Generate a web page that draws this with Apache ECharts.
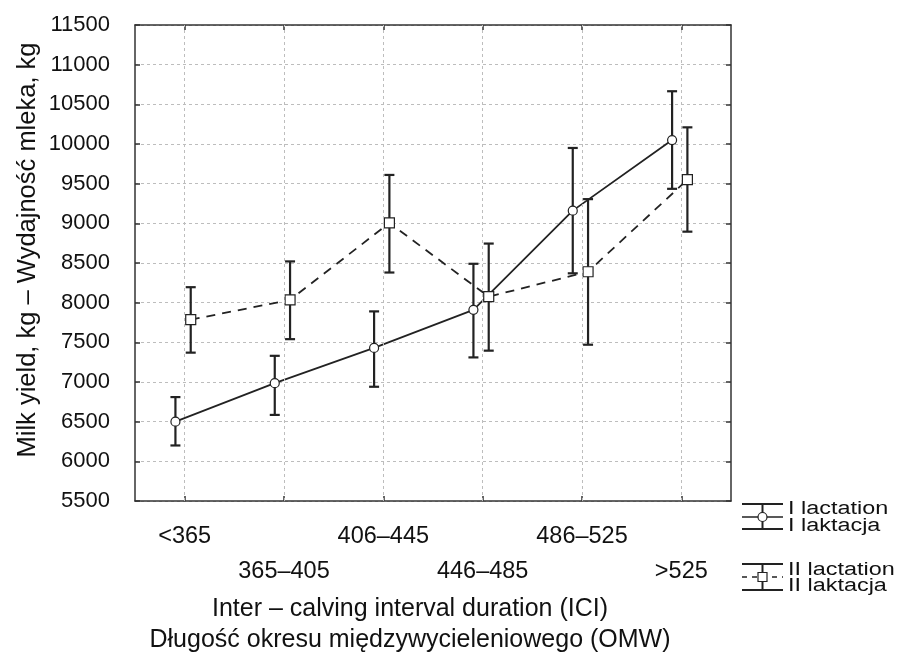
<!DOCTYPE html>
<html>
<head>
<meta charset="utf-8">
<script src="https://cdn.jsdelivr.net/npm/echarts@6/dist/echarts.min.js"></script>
<style>
  html, body { margin: 0; padding: 0; background: #fff; }
  #main { width: 898px; height: 653px; }
</style>
</head>
<body>
<div id="main"></div>
<script>
// kategorie OMW
var categories = ['<365', '365\u2013405', '406\u2013445', '446\u2013485', '486\u2013525', '>525'];

// I laktacja: srednia i przedzial
var lact1Mean = [6500, 6985, 7430, 7910, 9160, 10050];
var lact1Low  = [6200, 6585, 6940, 7310, 8370, 9435];
var lact1High = [6810, 7330, 7890, 8490, 9950, 10665];

// II laktacja: srednia i przedzial
var lact2Mean = [7785, 8035, 9005, 8075, 8390, 9550];
var lact2Low  = [7370, 7540, 8380, 7395, 7470, 8895];
var lact2High = [8195, 8520, 9610, 8745, 9305, 10210];

// os Y
var yMin = 5500, yMax = 11500, yStep = 500;

var ink = '#222';
var font = 'Liberation Sans, Arial, sans-serif';
var shift1 = -0.093, shift2 = 0.061;   // przesuniecie serii w kategorii
var catIdx = categories.map(function (c, i) { return i; });

function points(vals, shift) {
  return vals.map(function (v, i) { return [i + shift, v]; });
}
function bars(lo, hi, shift) {
  return lo.map(function (v, i) { return [i + shift, v, hi[i]]; });
}

function errorBar(params, api) {
  var x = api.value(0);
  var a = api.coord([x, api.value(1)]);
  var b = api.coord([x, api.value(2)]);
  var w = 5;
  var st = { stroke: ink, lineWidth: 2.2 };
  return {
    type: 'group',
    children: [
      { type: 'line', shape: { x1: a[0], y1: a[1], x2: b[0], y2: b[1] }, style: st },
      { type: 'line', shape: { x1: a[0] - w, y1: a[1], x2: a[0] + w, y2: a[1] }, style: st },
      { type: 'line', shape: { x1: b[0] - w, y1: b[1], x2: b[0] + w, y2: b[1] }, style: st }
    ]
  };
}

var axisLine = { show: true, onZero: false, lineStyle: { color: '#333', width: 1.5 } };
var tick = { show: true, inside: true, length: 5, customValues: catIdx, lineStyle: { color: '#333', width: 1.5 } };
var yTick = { show: true, inside: true, length: 5, lineStyle: { color: '#333', width: 1.5 } };

var chart = echarts.init(document.getElementById('main'));
chart.setOption({
  animation: false,
  backgroundColor: '#fff',
  textStyle: { fontFamily: font },
  grid: { left: 135, top: 25, width: 596, height: 476 },
  xAxis: [{
    type: 'value', position: 'bottom', min: -0.5, max: 5.5,
    axisLine: axisLine, axisTick: tick,
    axisLabel: {
      customValues: catIdx, color: '#111', fontSize: 23.5, fontFamily: font,
      margin: 18, lineHeight: 35,
      formatter: function (v) {
        var i = Math.round(v);
        return i % 2 ? '\n' + categories[i] : categories[i];
      }
    },
    splitLine: { show: false }
  }, {
    type: 'value', position: 'top', min: -0.5, max: 5.5,
    axisLine: axisLine, axisTick: tick,
    axisLabel: { show: false }, splitLine: { show: false }
  }],
  yAxis: [{
    type: 'value', position: 'left', min: yMin, max: yMax, interval: yStep,
    axisLine: axisLine, axisTick: yTick,
    axisLabel: { color: '#111', fontSize: 22, fontFamily: font, margin: 25, formatter: function (v) { return String(v); } },
    splitLine: { show: true, lineStyle: { color: '#bdbdbd', width: 1, type: [3, 3] } }
  }, {
    type: 'value', position: 'right', min: yMin, max: yMax, interval: yStep,
    axisLine: axisLine, axisTick: yTick,
    axisLabel: { show: false }, splitLine: { show: false }
  }],
  series: [
    // pionowe linie siatki w srodkach kategorii
    {
      type: 'line', data: [], z: 1, silent: true,
      markLine: {
        silent: true, symbol: ['none', 'none'], label: { show: false },
        lineStyle: { color: '#bdbdbd', width: 1, type: [3, 3] },
        data: catIdx.map(function (i) { return { xAxis: i }; })
      }
    },
    { type: 'custom', name: 'I', renderItem: errorBar, data: bars(lact1Low, lact1High, shift1), encode: { x: 0, y: [1, 2] }, z: 2 },
    { type: 'custom', name: 'II', renderItem: errorBar, data: bars(lact2Low, lact2High, shift2), encode: { x: 0, y: [1, 2] }, z: 2 },
    {
      type: 'line', name: 'I lactation', data: points(lact1Mean, shift1), z: 3,
      symbol: 'circle', symbolSize: 9,
      lineStyle: { color: ink, width: 1.8 },
      itemStyle: { color: '#fff', borderColor: ink, borderWidth: 1.2 }
    },
    {
      type: 'line', name: 'II lactation', data: points(lact2Mean, shift2), z: 3,
      symbol: 'rect', symbolSize: 10,
      lineStyle: { color: ink, width: 1.8, type: [9, 7] },
      itemStyle: { color: '#fff', borderColor: ink, borderWidth: 1.2 }
    }
  ],
  graphic: [
    // tytul osi Y
    {
      type: 'text', x: 28, y: 250, rotation: Math.PI / 2,
      style: { text: 'Milk yield, kg \u2013 Wydajno\u015b\u0107 mleka, kg', fontSize: 25.5, fontFamily: font, fill: '#111', textAlign: 'center', verticalAlign: 'middle' }
    },
    // tytul osi X
    {
      type: 'text', x: 410, y: 609,
      style: { text: 'Inter \u2013 calving interval duration (ICI)', fontSize: 25, fontFamily: font, fill: '#111', textAlign: 'center', verticalAlign: 'middle' }
    },
    {
      type: 'text', x: 410, y: 640,
      style: { text: 'D\u0142ugo\u015b\u0107 okresu mi\u0119dzywycieleniowego (OMW)', fontSize: 25, fontFamily: font, fill: '#111', textAlign: 'center', verticalAlign: 'middle' }
    },
    // legenda
    { type: 'line', shape: { x1: 742, y1: 504, x2: 783, y2: 504 }, style: { stroke: ink, lineWidth: 2 } },
    { type: 'line', shape: { x1: 742, y1: 517, x2: 783, y2: 517 }, style: { stroke: ink, lineWidth: 1.5 } },
    { type: 'line', shape: { x1: 742, y1: 529, x2: 783, y2: 529 }, style: { stroke: ink, lineWidth: 2 } },
    { type: 'line', shape: { x1: 762.5, y1: 504, x2: 762.5, y2: 529 }, style: { stroke: ink, lineWidth: 2 } },
    { type: 'circle', shape: { cx: 762.5, cy: 517, r: 4.5 }, style: { fill: '#fff', stroke: ink, lineWidth: 1.2 } },
    { type: 'text', x: 788, y: 509, scaleX: 1.3, style: { text: 'I lactation', fontSize: 18, fontFamily: font, fill: '#111', verticalAlign: 'middle' } },
    { type: 'text', x: 788, y: 526, scaleX: 1.3, style: { text: 'I laktacja', fontSize: 18, fontFamily: font, fill: '#111', verticalAlign: 'middle' } },

    { type: 'line', shape: { x1: 742, y1: 564, x2: 783, y2: 564 }, style: { stroke: ink, lineWidth: 2 } },
    { type: 'line', shape: { x1: 742, y1: 577, x2: 783, y2: 577 }, style: { stroke: ink, lineWidth: 1.5, lineDash: [5, 5] } },
    { type: 'line', shape: { x1: 742, y1: 590, x2: 783, y2: 590 }, style: { stroke: ink, lineWidth: 2 } },
    { type: 'line', shape: { x1: 762.5, y1: 564, x2: 762.5, y2: 590 }, style: { stroke: ink, lineWidth: 2 } },
    { type: 'rect', shape: { x: 758, y: 572.5, width: 9, height: 9 }, style: { fill: '#fff', stroke: ink, lineWidth: 1.2 } },
    { type: 'text', x: 788, y: 570, scaleX: 1.3, style: { text: 'II lactation', fontSize: 18, fontFamily: font, fill: '#111', verticalAlign: 'middle' } },
    { type: 'text', x: 788, y: 586, scaleX: 1.3, style: { text: 'II laktacja', fontSize: 18, fontFamily: font, fill: '#111', verticalAlign: 'middle' } }
  ]
});
</script>
</body>
</html>
